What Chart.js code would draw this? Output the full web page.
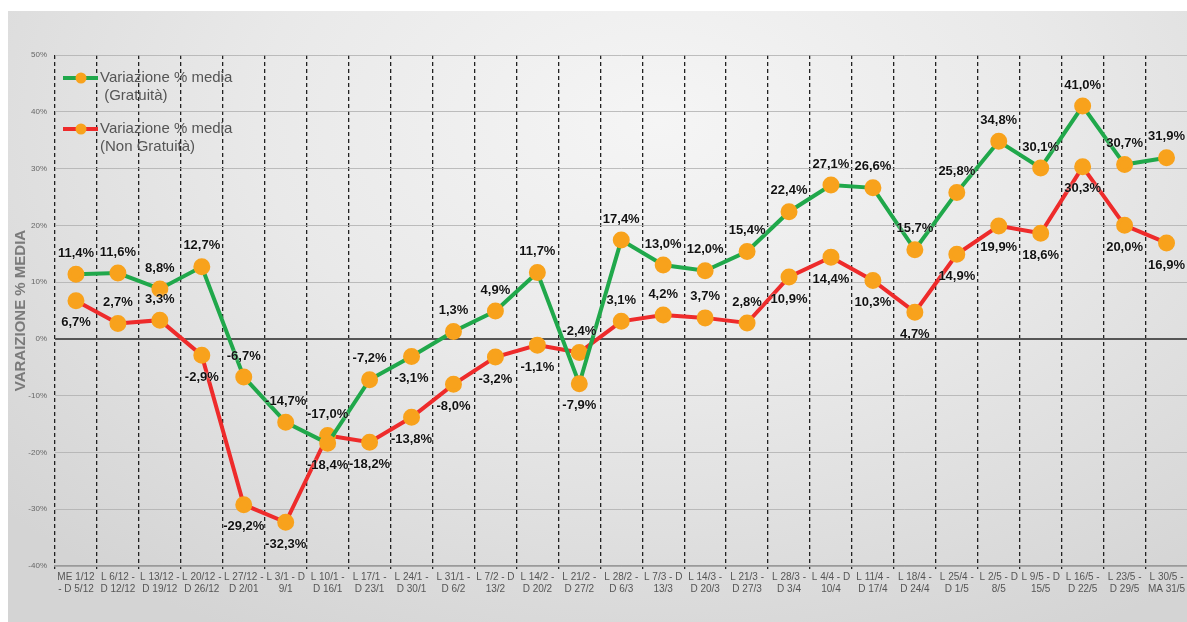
<!DOCTYPE html>
<html>
<head>
<meta charset="utf-8">
<script src="https://cdn.jsdelivr.net/npm/chart.js@4/dist/chart.umd.min.js"></script>
<style>
  html, body { margin: 0; padding: 0; background: #fff; }
  #wrap { position: relative; width: 1187px; height: 622px; overflow: hidden; }
  #panel {
    position: absolute; left: 8px; top: 11px; right: 0; bottom: 0;
    background: radial-gradient(ellipse 75% 95% at 55% 18%, #f5f5f5 0%, #e9e9e9 45%, #d4d4d4 100%);
  }
  #chart { position: absolute; left: 0; top: 0; }
</style>
</head>
<body>
<div id="wrap">
  <div id="panel"></div>
  <canvas id="chart" width="1198" height="622"></canvas>
</div>
<script>
// settimane
const weeks = [
  ['ME 1/12', '- D 5/12'], ['L 6/12 -', 'D 12/12'], ['L 13/12 -', 'D 19/12'], ['L 20/12 -', 'D 26/12'],
  ['L 27/12 -', 'D 2/01'], ['L 3/1 - D', '9/1'], ['L 10/1 -', 'D 16/1'], ['L 17/1 -', 'D 23/1'],
  ['L 24/1 -', 'D 30/1'], ['L 31/1 -', 'D 6/2'], ['L 7/2 - D', '13/2'], ['L 14/2 -', 'D 20/2'],
  ['L 21/2 -', 'D 27/2'], ['L 28/2 -', 'D 6/3'], ['L 7/3 - D', '13/3'], ['L 14/3 -', 'D 20/3'],
  ['L 21/3 -', 'D 27/3'], ['L 28/3 -', 'D 3/4'], ['L 4/4 - D', '10/4'], ['L 11/4 -', 'D 17/4'],
  ['L 18/4 -', 'D 24/4'], ['L 25/4 -', 'D 1/5'], ['L 2/5 - D', '8/5'], ['L 9/5 - D', '15/5'],
  ['L 16/5 -', 'D 22/5'], ['L 23/5 -', 'D 29/5'], ['L 30/5 -', 'MA 31/5']
];
const gratuita = [11.4, 11.6, 8.8, 12.7, -6.7, -14.7, -18.4, -7.2, -3.1, 1.3, 4.9, 11.7, -7.9, 17.4,
  13.0, 12.0, 15.4, 22.4, 27.1, 26.6, 15.7, 25.8, 34.8, 30.1, 41.0, 30.7, 31.9];
const nonGratuita = [6.7, 2.7, 3.3, -2.9, -29.2, -32.3, -17.0, -18.2, -13.8, -8.0, -3.2, -1.1, -2.4, 3.1,
  4.2, 3.7, 2.8, 10.9, 14.4, 10.3, 4.7, 14.9, 19.9, 18.6, 30.3, 20.0, 16.9];
const seriesNames = [['Variazione % media', ' (Gratuità)'], ['Variazione % media', '(Non Gratuità)']];

// etichette: eccezioni alla posizione standard
const greenBelow = [6, 8, 12];
const redAbove = [1, 2, 6, 12, 13, 14, 15, 16];

const GREEN = '#20a84b';
const RED = '#ee2b2b';
const ORANGE = '#f8a21c';

const valueLabels = {
  id: 'valueLabels',
  afterDatasetsDraw(chart) {
    const ctx = chart.ctx;
    ctx.save();
    ctx.font = 'bold 13px "Liberation Sans", Arial, sans-serif';
    ctx.fillStyle = '#111';
    ctx.textAlign = 'center';
    ctx.textBaseline = 'middle';
    ctx.shadowColor = 'rgba(255,255,255,0.9)';
    ctx.shadowBlur = 2;
    chart.data.datasets.forEach(function(ds, di) {
      const meta = chart.getDatasetMeta(di);
      meta.data.forEach(function(pt, i) {
        let up = di === 0 ? greenBelow.indexOf(i) < 0 : redAbove.indexOf(i) >= 0;
        const txt = ds.data[i].toFixed(1).replace('.', ',') + '%';
        ctx.fillText(txt, pt.x, pt.y + (up ? -21 : 22));
      });
    });
    ctx.restore();
  }
};

const innerLegend = {
  id: 'innerLegend',
  afterDraw(chart) {
    const ctx = chart.ctx;
    const colors = [GREEN, RED];
    ctx.save();
    colors.forEach(function(c, k) {
      const y = 78 + k * 51;
      ctx.strokeStyle = c;
      ctx.lineWidth = 4;
      ctx.beginPath();
      ctx.moveTo(63, y);
      ctx.lineTo(98, y);
      ctx.stroke();
      ctx.fillStyle = ORANGE;
      ctx.beginPath();
      ctx.arc(81, y, 5.5, 0, Math.PI * 2);
      ctx.fill();
      ctx.fillStyle = '#555';
      ctx.font = '15px "Liberation Sans", Arial, sans-serif';
      ctx.textBaseline = 'middle';
      ctx.fillText(seriesNames[k][0], 100, y);
      ctx.fillText(seriesNames[k][1], 100, y + 18);
    });
    ctx.restore();
  }
};

new Chart('chart', {
  type: 'line',
  data: {
    labels: weeks,
    datasets: [{
      label: 'Variazione % media (Gratuità)',
      data: gratuita,
      borderColor: GREEN,
      borderWidth: 4,
      pointBackgroundColor: ORANGE,
      pointBorderColor: ORANGE,
      pointRadius: 6.5,
      tension: 0
    }, {
      label: 'Variazione % media (Non Gratuità)',
      data: nonGratuita,
      borderColor: RED,
      borderWidth: 4,
      pointBackgroundColor: ORANGE,
      pointBorderColor: ORANGE,
      pointRadius: 6.5,
      tension: 0
    }]
  },
  options: {
    responsive: false,
    animation: false,
    layout: { padding: { left: 8, top: 55, right: 0, bottom: 0 } },
    plugins: {
      legend: { display: false },
      tooltip: { enabled: false }
    },
    scales: {
      x: {
        offset: true,
        afterFit: function(s) { s.height = 56; },
        grid: { offset: true, color: '#222', lineWidth: 1.3, tickLength: 3 },
        border: { color: '#9a9a9a', width: 1.5, dash: [4, 3] },
        ticks: {
          autoSkip: false, maxRotation: 0, padding: 2,
          color: '#555',
          font: { family: '"Liberation Sans", Arial, sans-serif', size: 10 }
        }
      },
      y: {
        min: -40, max: 50,
        afterFit: function(s) { s.width = 47; },
        grid: {
          drawTicks: false,
          color: function(c) { return c.tick && c.tick.value === 0 ? '#555' : 'rgba(175,175,175,0.8)'; },
          lineWidth: function(c) { return c.tick && c.tick.value === 0 ? 2 : 1; }
        },
        border: { display: false },
        ticks: {
          stepSize: 10, padding: 8,
          color: '#666',
          font: { family: '"Liberation Sans", Arial, sans-serif', size: 8 },
          callback: function(v) { return v + '%'; }
        },
        title: {
          display: true,
          text: 'VARAIZIONE % MEDIA',
          color: '#7a7a7a',
          font: { family: '"Liberation Sans", Arial, sans-serif', size: 15, weight: 'bold' }
        }
      }
    }
  },
  plugins: [valueLabels, innerLegend]
});
</script>
</body>
</html>
